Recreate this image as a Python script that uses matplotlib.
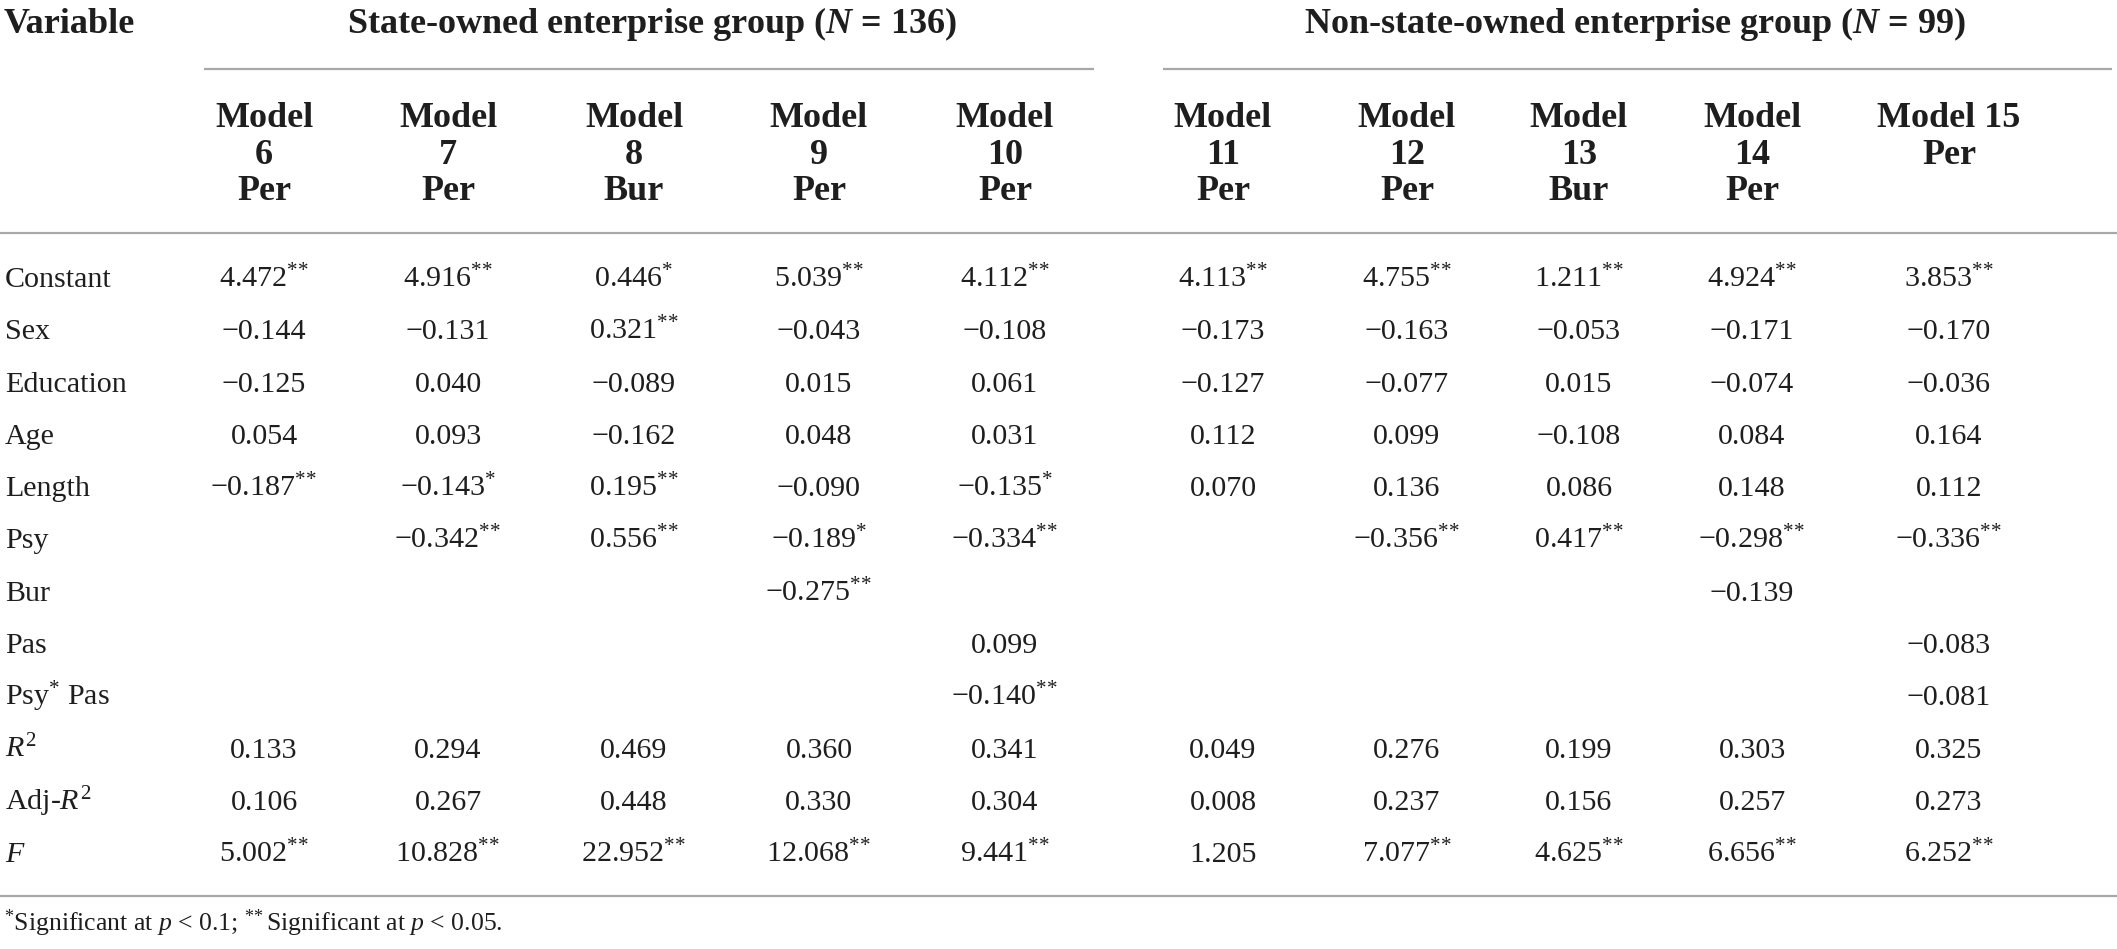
# Tabela de regressão: grupos estatal / não estatal
import matplotlib.pyplot as plt

plt.rcParams['font.family'] = ['Liberation Serif', 'DejaVu Serif']
plt.rcParams['mathtext.fontset'] = 'custom'
plt.rcParams['mathtext.rm'] = 'Liberation Serif'
plt.rcParams['mathtext.it'] = 'Liberation Serif:italic'
plt.rcParams['mathtext.bf'] = 'Liberation Serif:bold'
plt.rcParams['mathtext.bfit'] = 'Liberation Serif:italic:bold'

# dados da tabela
row_labels = ['Constant', 'Sex', 'Education', 'Age', 'Length', 'Psy', 'Bur',
              'Pas', 'Psy$^{*}$ Pas', '$R^2$', 'Adj-$R^2$', '$F$']

model_nums = ['6', '7', '8', '9', '10', '11', '12', '13', '14', '15']
model_dv = ['Per', 'Per', 'Bur', 'Per', 'Per', 'Per', 'Per', 'Bur', 'Per', 'Per']

group_left = 'State-owned enterprise group ($\\mathbfit{N}$ = 136)'
group_right = 'Non-state-owned enterprise group ($\\mathbfit{N}$ = 99)'

m6 = [4.472, -0.144, -0.125, 0.054, -0.187, None, None, None, None, 0.133, 0.106, 5.002]
m7 = [4.916, -0.131, 0.040, 0.093, -0.143, -0.342, None, None, None, 0.294, 0.267, 10.828]
m8 = [0.446, 0.321, -0.089, -0.162, 0.195, 0.556, None, None, None, 0.469, 0.448, 22.952]
m9 = [5.039, -0.043, 0.015, 0.048, -0.090, -0.189, -0.275, None, None, 0.360, 0.330, 12.068]
m10 = [4.112, -0.108, 0.061, 0.031, -0.135, -0.334, None, 0.099, -0.140, 0.341, 0.304, 9.441]
m11 = [4.113, -0.173, -0.127, 0.112, 0.070, None, None, None, None, 0.049, 0.008, 1.205]
m12 = [4.755, -0.163, -0.077, 0.099, 0.136, -0.356, None, None, None, 0.276, 0.237, 7.077]
m13 = [1.211, -0.053, 0.015, -0.108, 0.086, 0.417, None, None, None, 0.199, 0.156, 4.625]
m14 = [4.924, -0.171, -0.074, 0.084, 0.148, -0.298, -0.139, None, None, 0.303, 0.257, 6.656]
m15 = [3.853, -0.170, -0.036, 0.164, 0.112, -0.336, None, -0.083, -0.081, 0.325, 0.273, 6.252]

# estrelas de significancia (1 = p<0.1, 2 = p<0.05)
s6 = [2, 0, 0, 0, 2, 0, 0, 0, 0, 0, 0, 2]
s7 = [2, 0, 0, 0, 1, 2, 0, 0, 0, 0, 0, 2]
s8 = [1, 2, 0, 0, 2, 2, 0, 0, 0, 0, 0, 2]
s9 = [2, 0, 0, 0, 0, 1, 2, 0, 0, 0, 0, 2]
s10 = [2, 0, 0, 0, 1, 2, 0, 0, 2, 0, 0, 2]
s11 = [2, 0, 0, 0, 0, 0, 0, 0, 0, 0, 0, 0]
s12 = [2, 0, 0, 0, 0, 2, 0, 0, 0, 0, 0, 2]
s13 = [2, 0, 0, 0, 0, 2, 0, 0, 0, 0, 0, 2]
s14 = [2, 0, 0, 0, 0, 2, 0, 0, 0, 0, 0, 2]
s15 = [2, 0, 0, 0, 0, 2, 0, 0, 0, 0, 0, 2]

values = [m6, m7, m8, m9, m10, m11, m12, m13, m14, m15]
stars = [s6, s7, s8, s9, s10, s11, s12, s13, s14, s15]

footnote = '$^{*}$Significant at $p$ < 0.1; $^{*\\!*}$Significant at $p$ < 0.05.'

# layout (pixels)
W, H = 2117, 949
col_x = [264, 448, 634, 819, 1005, 1223, 1407, 1579, 1752, 1949]
row_y0 = 287
row_dy = 52.3
BODY = 21.6
HEAD = 26
FOOT = 18.5
TXT = '#1e1e1e'
RULE = '#a8a8a8'


def fmt(v, s):
    if v is None:
        return ''
    txt = f'{abs(v):.3f}'
    if v < 0:
        txt = '\u2212' + txt
    if s:
        txt += '$^{' + '\\!'.join(['*'] * s) + '}$'
    return txt


fig = plt.figure(figsize=(W / 100, H / 100), dpi=100)
ax = fig.add_axes([0, 0, 1, 1])
ax.set_xlim(0, W)
ax.set_ylim(H, 0)
ax.axis('off')

# cabecalho
ax.text(4, 33, 'Variable', fontsize=HEAD, fontweight='bold', color=TXT,
        ha='left', va='baseline')
ax.text(652, 33, group_left, fontsize=HEAD, fontweight='bold', color=TXT,
        ha='center', va='baseline')
ax.text(1635, 33, group_right, fontsize=HEAD, fontweight='bold', color=TXT,
        ha='center', va='baseline')
ax.plot([204, 1094], [69, 69], color=RULE, lw=1.6, solid_capstyle='butt')
ax.plot([1163, 2112], [69, 69], color=RULE, lw=1.6, solid_capstyle='butt')

for j, x in enumerate(col_x):
    if j == len(col_x) - 1:
        lines = ['Model ' + model_nums[j], model_dv[j]]
    else:
        lines = ['Model', model_nums[j], model_dv[j]]
    for k, ln in enumerate(lines):
        ax.text(x, 127 + 36.5 * k, ln, fontsize=HEAD, fontweight='bold',
                color=TXT, ha='center', va='baseline')

ax.plot([0, W], [233, 233], color=RULE, lw=1.6, solid_capstyle='butt')

# linhas da tabela
for i, lab in enumerate(row_labels):
    y = row_y0 + row_dy * i
    ax.text(5, y, lab, fontsize=BODY, color=TXT, ha='left', va='baseline')
    for j, x in enumerate(col_x):
        t = fmt(values[j][i], stars[j][i])
        if t:
            ax.text(x, y, t, fontsize=BODY, color=TXT, ha='center', va='baseline')

ax.plot([0, W], [896, 896], color=RULE, lw=1.6, solid_capstyle='butt')
ax.text(4, 931, footnote, fontsize=FOOT, color=TXT, ha='left', va='baseline')

fig.savefig('out.png', dpi=100)
